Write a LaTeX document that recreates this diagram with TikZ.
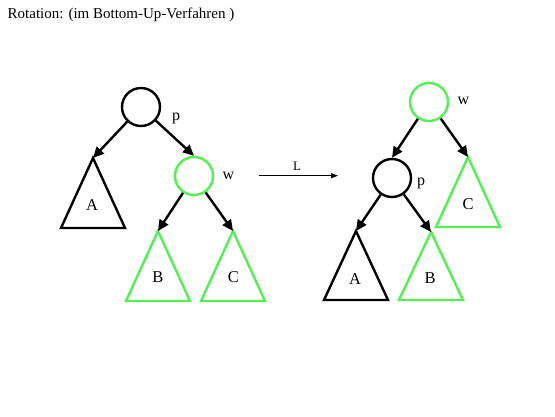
\documentclass[tikz,border=0pt]{standalone}
\usepackage{fontspec}
\setmainfont{Liberation Serif}
\usetikzlibrary{arrows.meta}
\definecolor{lgreen}{RGB}{82,240,82}
\tikzset{
  knot/.style={circle,draw,line width=2.4pt,minimum size=38pt,inner sep=0pt},
  gknot/.style={knot,draw=lgreen},
  tri/.style={line width=2.4pt,line join=miter},
  gtri/.style={tri,draw=lgreen},
  edge/.style={line width=2.4pt,-{Triangle[length=11pt,width=10pt]}},
  big/.style={font=\fontsize{16.5}{16.5}\selectfont},
  small/.style={font=\fontsize{16}{16}\selectfont},
  tiny/.style={font=\fontsize{13}{13}\selectfont},
  head/.style={font=\fontsize{15}{15}\selectfont},
}
\begin{document}
\begin{tikzpicture}[x=1pt,y=-1pt]
\useasboundingbox (0,0) rectangle (555,416);
\node[head,anchor=base west,inner sep=0pt] (title) at (7.5,18.3) {Rotation: (im Bottom-Up-Verfahren )};

% left tree
\node[knot] (lp) at (141,107) {};
\node[small] (lpl) at (176,118) {p};
\node[gknot] (lw) at (194,176) {};
\node[small] (lwl) at (228.5,176) {w};
\coordinate (lA) at (93,158);
\coordinate (lB) at (158,231);
\coordinate (lC) at (233,231);
\draw[tri] (lA) -- ++(32,70) -- ++(-64,0) -- cycle;
\draw[gtri] (lB) -- ++(32,70) -- ++(-64,0) -- cycle;
\draw[gtri] (lC) -- ++(32,70) -- ++(-64,0) -- cycle;
\node[big] (lAl) at (92,205.5) {A};
\node[big] (lBl) at (158,277) {B};
\node[big] (lCl) at (233.5,277) {C};
\draw[edge] (lp) -- (lA);
\draw[edge] (lp) -- (lw.north);
\draw[edge] (lw) -- (lB);
\draw[edge] (lw) -- (lC);

% middle arrow
\coordinate (ms) at (259,175.7);
\coordinate (me) at (338,175.7);
\draw[line width=0.9pt,-{Triangle[length=7pt,width=5pt]}] (ms) -- (me);
\node[tiny] (Ll) at (297,166) {L};

% right tree
\node[gknot] (rw) at (429,102) {};
\node[small] (rwl) at (463.5,101) {w};
\node[knot] (rp) at (392,178) {};
\node[small] (rpl) at (421,183) {p};
\coordinate (rC) at (468,157);
\coordinate (rA) at (356,231);
\coordinate (rB) at (431,232);
\draw[gtri] (rC) -- ++(32,70) -- ++(-64,0) -- cycle;
\draw[tri] (rA) -- ++(32,69) -- ++(-64,0) -- cycle;
\draw[gtri] (rB) -- ++(32,68) -- ++(-64,0) -- cycle;
\node[big] (rCl) at (468,204) {C};
\node[big] (rAl) at (355,279.5) {A};
\node[big] (rBl) at (430,278.5) {B};
\draw[edge] (rw) -- (rp.north);
\draw[edge] (rw) -- (rC);
\draw[edge] (rp) -- (rA);
\draw[edge] (rp) -- (rB);
\end{tikzpicture}
\end{document}
